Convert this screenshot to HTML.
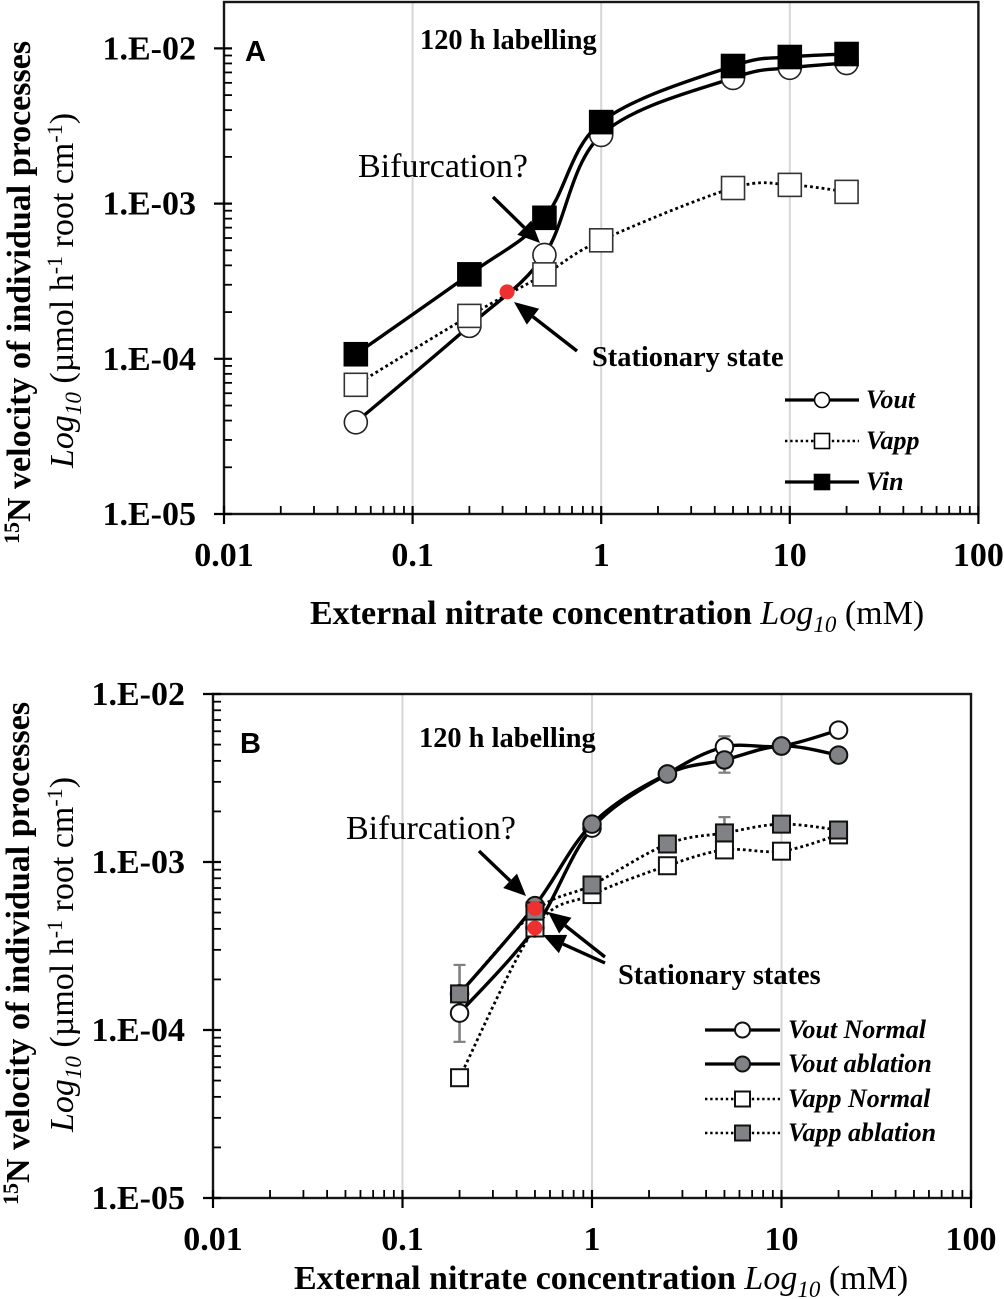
<!DOCTYPE html>
<html lang="en">
<head>
<meta charset="utf-8">
<title>15N velocity of individual processes</title>
<style>
html,body{margin:0;padding:0;background:#fff;}
svg{display:block;}
text{font-family:"Liberation Serif",serif;fill:#000;}
.sans{font-family:"Liberation Sans",sans-serif;font-weight:700;font-size:29px;}
.tick{font-weight:700;font-size:34px;}
.title{font-weight:700;font-size:34px;}
.sub{font-size:34px;}
.note{font-weight:700;font-size:28.4px;}
.q{font-size:34px;}
.leg{font-weight:700;font-style:italic;font-size:26px;}
</style>
</head>
<body>
<svg id="figure" xmlns="http://www.w3.org/2000/svg" width="1004" height="1299" viewBox="0 0 1004 1299">
  <rect width="1004" height="1299" fill="#fff"/>
  <g id="panel-a"></g>
  <g id="panel-b"></g>

  <text class="sans" x="245" y="61">A</text>
  <text class="note" x="420" y="49">120 h labelling</text>
  <text class="q" x="358" y="177">Bifurcation?</text>
  <text class="note" x="592" y="366">Stationary state</text>
  <text class="title" x="310" y="624">External nitrate concentration <tspan font-weight="400" font-style="italic">Log</tspan><tspan font-weight="400" font-style="italic" font-size="23" dy="8">10</tspan><tspan font-weight="400" dy="-8"> (mM)</tspan></text>
  <text class="title" transform="translate(30,544) rotate(-90)"><tspan font-size="22" dy="-11">15</tspan><tspan dy="11">N velocity of individual processes</tspan></text>
  <text class="sub" transform="translate(73,468) rotate(-90)"><tspan font-style="italic">Log</tspan><tspan font-style="italic" font-size="23" dy="8">10</tspan><tspan dy="-8"> (µmol h</tspan><tspan font-size="22" dy="-11">-1</tspan><tspan dy="11"> root cm</tspan><tspan font-size="22" dy="-11">-1</tspan><tspan dy="11">)</tspan></text>

  <text class="sans" x="240" y="753">B</text>
  <text class="note" x="419" y="747">120 h labelling</text>
  <text class="q" x="346" y="839">Bifurcation?</text>
  <text class="note" x="618" y="984">Stationary states</text>
  <text class="title" x="294" y="1289">External nitrate concentration <tspan font-weight="400" font-style="italic">Log</tspan><tspan font-weight="400" font-style="italic" font-size="23" dy="8">10</tspan><tspan font-weight="400" dy="-8"> (mM)</tspan></text>
  <text class="title" transform="translate(29,1205) rotate(-90)"><tspan font-size="22" dy="-11">15</tspan><tspan dy="11">N velocity of individual processes</tspan></text>
  <text class="sub" transform="translate(73,1132) rotate(-90)"><tspan font-style="italic">Log</tspan><tspan font-style="italic" font-size="23" dy="8">10</tspan><tspan dy="-8"> (µmol h</tspan><tspan font-size="22" dy="-11">-1</tspan><tspan dy="11"> root cm</tspan><tspan font-size="22" dy="-11">-1</tspan><tspan dy="11">)</tspan></text>
</svg>
<script>
// Shared axis data
const xTickValues = [0.01, 0.1, 1, 10, 100];
const xTickLabels = ['0.01', '0.1', '1', '10', '100'];
const yTickValues = [1e-5, 1e-4, 1e-3, 1e-2];
const yTickLabels = ['1.E-05', '1.E-04', '1.E-03', '1.E-02'];

// Panel A data
const nitrateA = [0.05, 0.2, 0.5, 1, 5, 10, 20];
const vOutA = [3.9e-5, 1.63e-4, 4.67e-4, 2.77e-3, 6.45e-3, 7.5e-3, 8.05e-3];
const vAppA = [6.8e-5, 1.89e-4, 3.5e-4, 5.8e-4, 1.26e-3, 1.32e-3, 1.19e-3];
const vInA = [1.07e-4, 3.5e-4, 8.1e-4, 3.35e-3, 7.7e-3, 8.8e-3, 9.2e-3];
const stationaryXA = [0.317];
const stationaryYA = [2.7e-4];

// Panel B data
const nitrateB = [0.2, 0.5, 1, 2.5, 5, 10, 20];
const vOutNormalB = [1.26e-4, 4.05e-4, 1.59e-3, 3.34e-3, 4.84e-3, 4.9e-3, 6.1e-3];
const vOutAblationB = [1.64e-4, 5.5e-4, 1.68e-3, 3.34e-3, 4.05e-3, 4.9e-3, 4.33e-3];
const vAppNormalB = [5.2e-5, 4.05e-4, 6.4e-4, 9.5e-4, 1.18e-3, 1.16e-3, 1.45e-3];
const vAppAblationB = [1.64e-4, 5.1e-4, 7.3e-4, 1.28e-3, 1.49e-3, 1.68e-3, 1.55e-3];
const errorXB = [0.2, 5, 5];
const errorLowB = [8.5e-5, 3.4e-3, 1.3e-3];
const errorHighB = [2.44e-4, 5.6e-3, 1.85e-3];
const stationaryXB = [0.5, 0.5];
const stationaryYB = [5.3e-4, 4.05e-4];

const NS = 'http://www.w3.org/2000/svg';

function make(parent, tag, attrs, name) {
  const el = document.createElementNS(NS, tag);
  for (const k in attrs) el.setAttribute(k, attrs[k]);
  
  
  parent.appendChild(el);
  return el;
}

function axisFns(left, decade, bottom, yDecade) {
  return {
    x: v => left + decade * (Math.log10(v) + 2),
    y: v => bottom - yDecade * (Math.log10(v) + 5)
  };
}

const axA = axisFns(224, 188.6, 514, 155.2);
const axB = axisFns(213, 189.5, 1198, 168);

function smoothPath(pts) {
  let d = 'M' + pts[0][0].toFixed(1) + ' ' + pts[0][1].toFixed(1);
  for (let i = 0; i < pts.length - 1; i++) {
    const p0 = pts[Math.max(i - 1, 0)], p1 = pts[i], p2 = pts[i + 1], p3 = pts[Math.min(i + 2, pts.length - 1)];
    const c1x = p1[0] + (p2[0] - p0[0]) / 6, c1y = p1[1] + (p2[1] - p0[1]) / 6;
    const c2x = p2[0] - (p3[0] - p1[0]) / 6, c2y = p2[1] - (p3[1] - p1[1]) / 6;
    d += 'C' + [c1x, c1y, c2x, c2y, p2[0], p2[1]].map(n => n.toFixed(1)).join(' ');
  }
  return d;
}

function marker(g, shape, cx, cy, size, fill, stroke, sw, name) {
  if (shape === 'circle') {
    make(g, 'circle', { cx: cx, cy: cy, r: size / 2, fill: fill, stroke: stroke, 'stroke-width': sw }, name);
  } else {
    make(g, 'rect', { x: cx - size / 2, y: cy - size / 2, width: size, height: size, fill: fill, stroke: stroke, 'stroke-width': sw }, name);
  }
}

function drawAxes(g, ax, top, id) {
  const left = ax.x(0.01), right = ax.x(100), bottom = ax.y(1e-5);
  const gridVals = [0.1, 1, 10];
  gridVals.forEach(v => {
    make(g, 'line', { x1: ax.x(v), x2: ax.x(v), y1: top, y2: bottom, stroke: '#d6d6d6', 'stroke-width': 2 }, id + '-gridline');
  });
  make(g, 'rect', { x: left, y: top, width: right - left, height: bottom - top, fill: 'none', stroke: '#151515', 'stroke-width': 2.4 }, id + '-plot-frame');
  for (let d = 0.01; d < 50; d *= 10) {
    for (let m = 2; m <= 9; m++) {
      const px = ax.x(d * m);
      make(g, 'line', { x1: px, x2: px, y1: bottom - 8, y2: bottom, stroke: '#000', 'stroke-width': 1.8 }, id + '-x-minor-tick');
    }
  }
  for (let d = 1e-5; d < 9e-3; d *= 10) {
    for (let m = 2; m <= 9; m++) {
      const py = ax.y(d * m);
      make(g, 'line', { x1: left, x2: left + 8, y1: py, y2: py, stroke: '#000', 'stroke-width': 1.8 }, id + '-y-minor-tick');
    }
  }
  xTickValues.forEach((v, i) => {
    const px = ax.x(v);
    make(g, 'line', { x1: px, x2: px, y1: bottom - 8, y2: bottom + 10, stroke: '#000', 'stroke-width': 2.2 }, id + '-x-major-tick');
    const t = make(g, 'text', { x: px, y: bottom + 52, 'text-anchor': 'middle', class: 'tick' }, id + '-x-tick-label');
    t.textContent = xTickLabels[i];
  });
  yTickValues.forEach((v, i) => {
    const py = ax.y(v);
    make(g, 'line', { x1: left - 10, x2: left + 8, y1: py, y2: py, stroke: '#000', 'stroke-width': 2.2 }, id + '-y-major-tick');
    const t = make(g, 'text', { x: left - 28, y: py + 11, 'text-anchor': 'end', class: 'tick' }, id + '-y-tick-label');
    t.textContent = yTickLabels[i];
  });
}

function drawSeries(g, ax, xs, ys, opt) {
  const pts = xs.map((x, i) => [ax.x(x), ax.y(ys[i])]);
  const attrs = { d: smoothPath(pts), fill: 'none', stroke: '#000', 'stroke-width': opt.dotted ? 2.8 : 3.4 };
  if (opt.dotted) attrs['stroke-dasharray'] = '2.8 3';
  make(g, 'path', attrs, opt.name + '-line');
  pts.forEach(p => {
    marker(g, opt.shape, p[0], p[1], opt.size, opt.fill, opt.stroke, opt.sw, opt.name + '-point');
  });
}

function arrow(g, x1, y1, x2, y2, len, half, name) {
  const a = Math.atan2(y2 - y1, x2 - x1), c = Math.cos(a), s = Math.sin(a);
  const bx = x2 - len * c, by = y2 - len * s;
  make(g, 'line', { x1: x1, y1: y1, x2: bx, y2: by, stroke: '#000', 'stroke-width': 3.4 }, name + '-shaft');
  const poly = [x2, y2, bx - half * s, by + half * c, bx + half * s, by - half * c].map(n => n.toFixed(1)).join(' ');
  make(g, 'polygon', { points: poly, fill: '#000' }, name + '-head');
}

function legendRow(g, x1, x2, y, label, textX, opt) {
  const la = { x1: x1, x2: x2, y1: y, y2: y, stroke: '#000', 'stroke-width': opt.dotted ? 2.4 : 3.2 };
  if (opt.dotted) la['stroke-dasharray'] = '2.4 2.8';
  make(g, 'line', la, opt.name + '-legend-line');
  marker(g, opt.shape, (x1 + x2) / 2, y, opt.size, opt.fill, opt.stroke, opt.sw, opt.name + '-legend-marker');
  const t = make(g, 'text', { x: textX, y: y + 8, class: 'leg' }, opt.name + '-legend-label');
  t.textContent = label;
}

// Panel A
const gA = document.getElementById('panel-a');
drawAxes(gA, axA, 2, 'panel-a');
const styleOutA = { name: 'vout', shape: 'circle', size: 23, fill: '#fff', stroke: '#222', sw: 1.6 };
const styleAppA = { name: 'vapp', shape: 'rect', size: 23, fill: '#fff', stroke: '#333', sw: 1.6, dotted: true };
const styleInA = { name: 'vin', shape: 'rect', size: 23, fill: '#000', stroke: '#000', sw: 1.6 };
drawSeries(gA, axA, nitrateA, vOutA, styleOutA);
drawSeries(gA, axA, nitrateA, vAppA, styleAppA);
drawSeries(gA, axA, nitrateA, vInA, styleInA);
stationaryXA.forEach((x, i) => {
  make(gA, 'circle', { cx: axA.x(x), cy: axA.y(stationaryYA[i]), r: 7.5, fill: '#ee3030' }, 'stationary-state-point');
});
arrow(gA, 493, 197, 540, 243, 22, 10, 'bifurcation-arrow');
arrow(gA, 577, 351, 514, 302, 24, 10, 'stationary-arrow');
legendRow(gA, 785, 859, 400, 'Vout', 866, { name: 'vout', shape: 'circle', size: 15, fill: '#fff', stroke: '#000', sw: 1.6 });
legendRow(gA, 785, 859, 441, 'Vapp', 866, { name: 'vapp', shape: 'rect', size: 15, fill: '#fff', stroke: '#000', sw: 1.6, dotted: true });
legendRow(gA, 785, 859, 482, 'Vin', 866, { name: 'vin', shape: 'rect', size: 15, fill: '#000', stroke: '#000', sw: 1.6 });

// Panel B
const gB = document.getElementById('panel-b');
drawAxes(gB, axB, axB.y(1e-2), 'panel-b');
errorXB.forEach((x, i) => {
  const px = axB.x(x), lo = axB.y(errorLowB[i]), hi = axB.y(errorHighB[i]);
  make(gB, 'line', { x1: px, x2: px, y1: lo, y2: hi, stroke: '#808080', 'stroke-width': 2.6 }, 'error-bar');
  make(gB, 'line', { x1: px - 6, x2: px + 6, y1: lo, y2: lo, stroke: '#808080', 'stroke-width': 2.2 }, 'error-bar-cap');
  make(gB, 'line', { x1: px - 6, x2: px + 6, y1: hi, y2: hi, stroke: '#808080', 'stroke-width': 2.2 }, 'error-bar-cap');
});
const GREY = '#808285';
const styleOutN = { name: 'vout-normal', shape: 'circle', size: 17.5, fill: '#fff', stroke: '#111', sw: 2 };
const styleOutAb = { name: 'vout-ablation', shape: 'circle', size: 17.5, fill: GREY, stroke: '#111', sw: 2 };
const styleAppN = { name: 'vapp-normal', shape: 'rect', size: 17, fill: '#fff', stroke: '#111', sw: 2, dotted: true };
const styleAppAb = { name: 'vapp-ablation', shape: 'rect', size: 17, fill: GREY, stroke: '#111', sw: 2, dotted: true };
drawSeries(gB, axB, nitrateB, vOutNormalB, styleOutN);
drawSeries(gB, axB, nitrateB, vOutAblationB, styleOutAb);
drawSeries(gB, axB, nitrateB, vAppNormalB, styleAppN);
drawSeries(gB, axB, nitrateB, vAppAblationB, styleAppAb);
stationaryXB.forEach((x, i) => {
  make(gB, 'circle', { cx: axB.x(x), cy: axB.y(stationaryYB[i]), r: 7.5, fill: '#ee3030' }, 'stationary-state-point');
});
arrow(gB, 479, 851, 526, 896, 22, 10, 'bifurcation-arrow');
arrow(gB, 605, 957, 548, 912, 22, 10, 'stationary-arrow-upper');
arrow(gB, 605, 963, 543, 935, 22, 10, 'stationary-arrow-lower');
legendRow(gB, 705, 780, 1030, 'Vout Normal', 788, { name: 'vout-normal', shape: 'circle', size: 15, fill: '#fff', stroke: '#111', sw: 2 });
legendRow(gB, 705, 780, 1064, 'Vout ablation', 788, { name: 'vout-ablation', shape: 'circle', size: 15, fill: GREY, stroke: '#111', sw: 2 });
legendRow(gB, 705, 780, 1099, 'Vapp Normal', 788, { name: 'vapp-normal', shape: 'rect', size: 15, fill: '#fff', stroke: '#111', sw: 2, dotted: true });
legendRow(gB, 705, 780, 1133, 'Vapp ablation', 788, { name: 'vapp-ablation', shape: 'rect', size: 15, fill: GREY, stroke: '#111', sw: 2, dotted: true });
</script>
</body>
</html>
